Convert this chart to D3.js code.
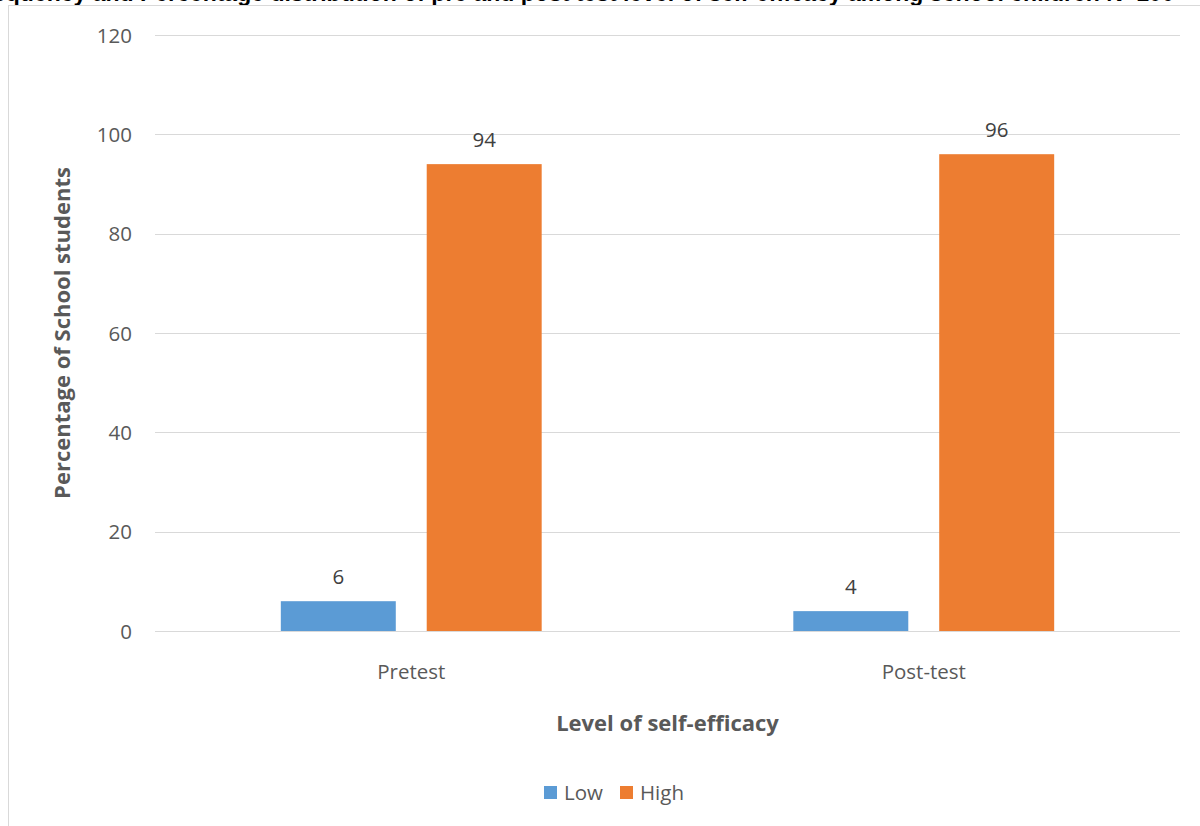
<!DOCTYPE html>
<html>
<head>
<meta charset="utf-8">
<script src="https://cdn.jsdelivr.net/npm/d3@7"></script>
<style>
  html, body { margin: 0; padding: 0; background: #fff; }
  svg { display: block; }
</style>
</head>
<body>
<svg id="chart" width="1200" height="826"></svg>
<script>
// Level of self-efficacy, percentage of school students
const categories = ["Pretest", "Post-test"];
const seriesNames = ["Low", "High"];
const lowValues = [6, 4];
const highValues = [94, 96];
const yTicks = [0, 20, 40, 60, 80, 100, 120];
const seriesColors = ["#5b9bd5", "#ed7d31"];

const titleText = "Frequency and Percentage distribution of pre and post test level of self-efficacy among school children N=100";
const yTitle = "Percentage of School students";
const xTitle = "Level of self-efficacy";

const svg = d3.select("#chart");
const font = "'Open Sans', 'Noto Sans', sans-serif";
const labelSize = 20.5;

// Figure caption, running above the top edge of the page
svg.append("text")
  .attr("x", -30).attr("y", 1)
  .attr("font-family", "'Liberation Sans', Arial, sans-serif")
  .attr("font-weight", "bold")
  .attr("font-size", 23)
  .attr("fill", "#000")
  .text(titleText);

// Chart frame
svg.append("rect")
  .attr("x", 8.5).attr("y", 5.5)
  .attr("width", 1300).attr("height", 900)
  .attr("fill", "#fff")
  .attr("stroke", "#d9d9d9").attr("stroke-width", 1);

const plot = { left: 155, right: 1180, top: 35, bottom: 631 };

const y = d3.scaleLinear().domain([0, 120]).range([plot.bottom, plot.top]);
const x0 = d3.scaleBand().domain(categories).range([plot.left, plot.right]).padding(0);
const groupPad = x0.bandwidth() * 0.2455;
const x1 = d3.scaleBand().domain(seriesNames)
  .range([groupPad, x0.bandwidth() - groupPad])
  .paddingInner(0.212).paddingOuter(0);

// Gridlines
svg.append("g")
  .selectAll("line")
  .data(yTicks)
  .join("line")
  .attr("x1", plot.left).attr("x2", plot.right)
  .attr("y1", d => Math.round(y(d)) + 0.5).attr("y2", d => Math.round(y(d)) + 0.5)
  .attr("stroke", "#d9d9d9").attr("stroke-width", 1);

// Y axis labels
const yAxis = d3.axisLeft(y).tickValues(yTicks).tickSize(0).tickPadding(0);
const gy = svg.append("g").attr("transform", `translate(${plot.left - 23},0)`).call(yAxis);
gy.select(".domain").remove();
gy.selectAll("text")
  .attr("font-family", font).attr("font-size", labelSize).attr("fill", "#595959")
  .attr("dy", "0.35em");

// X axis labels
const xAxis = d3.axisBottom(x0).tickSize(0).tickPadding(0);
const gx = svg.append("g").attr("transform", `translate(0,${plot.bottom + 28})`).call(xAxis);
gx.select(".domain").remove();
gx.selectAll("text")
  .attr("font-family", font).attr("font-size", labelSize).attr("fill", "#595959")
  .attr("dy", "0.35em").attr("y", 13);

// Bars
const rows = categories.map((c, i) => ({
  category: c,
  values: [
    { series: seriesNames[0], value: lowValues[i] },
    { series: seriesNames[1], value: highValues[i] }
  ]
}));
const color = d3.scaleOrdinal().domain(seriesNames).range(seriesColors);

const groups = svg.append("g")
  .selectAll("g")
  .data(rows)
  .join("g")
  .attr("transform", d => `translate(${x0(d.category)},0)`);

groups.selectAll("rect")
  .data(d => d.values)
  .join("rect")
  .attr("x", d => x1(d.series))
  .attr("width", x1.bandwidth())
  .attr("y", d => y(d.value))
  .attr("height", d => y(0) - y(d.value))
  .attr("fill", d => color(d.series));

// Data labels
groups.selectAll("text")
  .data(d => d.values)
  .join("text")
  .attr("x", d => x1(d.series) + x1.bandwidth() / 2)
  .attr("y", d => y(d.value) - 17)
  .attr("text-anchor", "middle")
  .attr("font-family", font).attr("font-size", labelSize).attr("fill", "#404040")
  .text(d => d.value);

// Axis titles
svg.append("text")
  .attr("x", (plot.left + plot.right) / 2).attr("y", 731)
  .attr("text-anchor", "middle")
  .attr("font-family", font).attr("font-size", 22).attr("font-weight", "bold")
  .attr("fill", "#595959")
  .text(xTitle);

svg.append("text")
  .attr("transform", `translate(70,${(plot.top + plot.bottom) / 2}) rotate(-90)`)
  .attr("text-anchor", "middle")
  .attr("font-family", font).attr("font-size", 22).attr("font-weight", "bold")
  .attr("fill", "#595959")
  .text(yTitle);

// Legend
const legend = svg.append("g").attr("transform", "translate(544,786)");
const items = legend.selectAll("g")
  .data(seriesNames)
  .join("g")
  .attr("transform", (d, i) => `translate(${i * 76},0)`);
items.append("rect")
  .attr("width", 13).attr("height", 13)
  .attr("fill", d => color(d));
items.append("text")
  .attr("x", 20).attr("y", 6.5).attr("dy", "0.35em")
  .attr("font-family", font).attr("font-size", labelSize).attr("fill", "#595959")
  .text(d => d);
</script>
</body>
</html>
